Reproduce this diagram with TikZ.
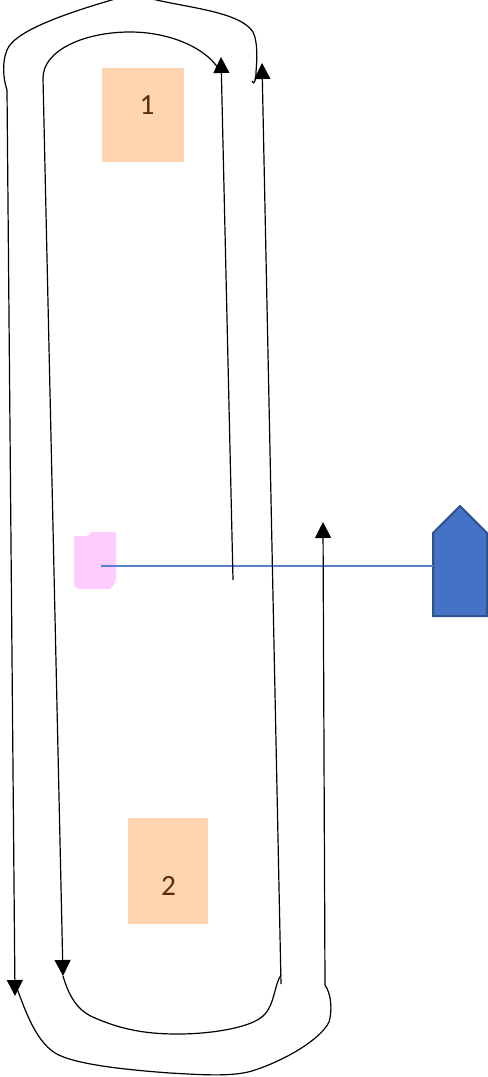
\documentclass[tikz,border=0pt]{standalone}
\usepackage{fontspec}
\setmainfont{Carlito}
\usetikzlibrary{arrows.meta}
\definecolor{peach}{HTML}{FFD5B0}
\definecolor{peachtext}{HTML}{5B2C06}
\definecolor{doorpink}{HTML}{FFCCFF}
\definecolor{boatblue}{HTML}{4472C4}
\definecolor{boatedge}{HTML}{2F528F}
\tikzset{
	berth/.style={text=peachtext,font=\fontsize{22}{22}\selectfont,inner sep=0pt},
	track/.style={draw=black,line width=.9pt},
	leg/.style={track,-{Triangle[length=12pt,width=12pt]}},
}
\begin{document}
\begin{tikzpicture}[x=.75pt,y=-.75pt]
	\useasboundingbox (0,0) rectangle (488,1077);

	\fill [peach] (102,68) rectangle (184,162);
	\fill [peach] (128,818) rectangle (208,924);
	\node [berth] (one) at (147,105) {1};
	\node [berth] (two) at (168.5,886) {2};

	\fill [doorpink] (74,541) [rounded corners=1pt] -- (74,586) -- (78,589) -- (110,589) [rounded corners=4pt] -- (116,583) [rounded corners=1pt] -- (116,532) -- (90,532) -- (89,536) -- (74,536) -- cycle;
	\coordinate (doorpt) at (101,566);

	\draw [fill=boatblue,draw=boatedge,line width=1.5pt] (433,533) -- (460,506) -- (487,533) -- (487,616) -- (433,616) -- cycle;
	\coordinate (boatpt) at (433,566);
	\draw [boatblue!90!white,line width=.9pt] (doorpt) -- (boatpt);

	% outer lap
	\coordinate (a1) at (7,90);
	\coordinate (a2) at (15,996);
	\coordinate (a3) at (281,984);
	\coordinate (a4) at (262,63);
	\coordinate (a5) at (325,985);
	\coordinate (a6) at (323,522);
	% inner lap
	\coordinate (b1) at (43,78);
	\coordinate (b2) at (63,976);
	\coordinate (b3) at (233,580);
	\coordinate (b4) at (221,57);

	\draw [leg] (a1) -- (a2);
	\draw [leg] (b1) -- (b2);
	\draw [leg] (b3) -- (b4);
	\draw [leg] (a3) -- (a4);
	\draw [leg] (a5) -- (a6);

	\draw [track] (a1) .. controls (3,78) and (2,62) .. (7,50) .. controls (14,32) and (60,15) .. (115,-1) .. controls (125,-5) and (140,-5) .. (152,-1) .. controls (190,8) and (240,12) .. (253,32) .. controls (258,42) and (257,60) .. (256,72) .. controls (256,80) and (254,86) .. (252,81);
	\draw [track] (b1) .. controls (43,50) and (85,32) .. (130,32) .. controls (170,32) and (205,48) .. (218,68);
	\draw [track] (63,976) .. controls (70,1000) and (80,1012) .. (95,1018) .. controls (125,1031) and (150,1034) .. (178,1034) .. controls (210,1034) and (250,1028) .. (263,1016) .. controls (275,1005) and (274,985) .. (281,975);
	\draw [track] (15,983) .. controls (25,1010) and (35,1040) .. (55,1053) .. controls (75,1065) and (130,1070) .. (170,1073) .. controls (205,1075) and (235,1077) .. (255,1070) .. controls (285,1060) and (320,1040) .. (329,1022) .. controls (332,1012) and (332,995) .. (a5);
\end{tikzpicture}
\end{document}
